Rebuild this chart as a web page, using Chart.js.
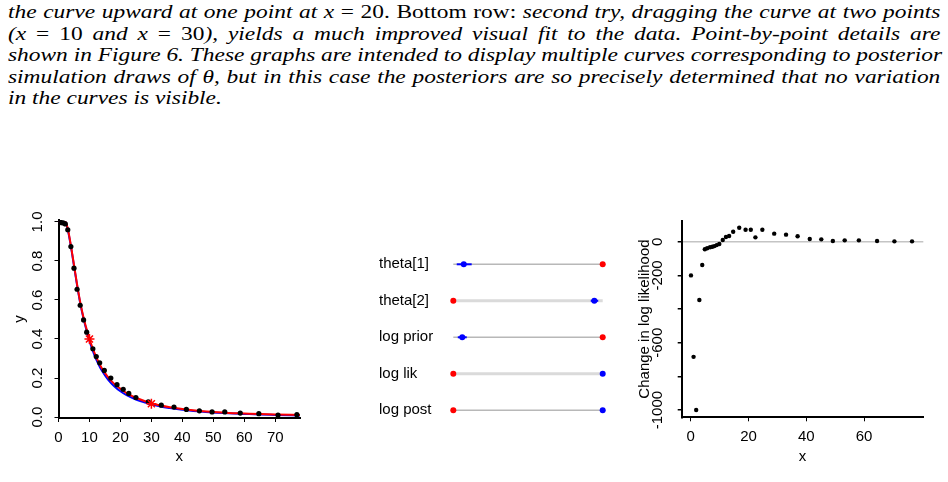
<!DOCTYPE html>
<html>
<head>
<meta charset="utf-8">
<script src="https://cdn.jsdelivr.net/npm/chart.js@4/dist/chart.umd.min.js"></script>
<style>
  body { margin: 0; width: 948px; height: 482px; overflow: hidden; background: #fff; position: relative; }
  /* Times italic is narrower than the TeX italic, so the block is stretched sideways */
  .caption { position: absolute; left: 8px; top: 2px; width: 737px; transform: scaleX(1.265); transform-origin: 0 0;
             font-family: "Liberation Serif", serif; font-style: italic; font-size: 18.5px; line-height: 21.5px; color: #000; }
  .caption div { text-align: justify; text-align-last: justify; white-space: nowrap; }
  .caption div.last { text-align-last: left; }
  .rm { font-style: normal; }
  canvas { position: absolute; }
</style>
</head>
<body>
<div class="caption">
  <div>the curve upward at one point at x <span class="rm">= 20. Bottom row:</span> second try, dragging the curve at two points</div>
  <div>(x <span class="rm">= 10</span> and x <span class="rm">= 30</span>), yields a much improved visual fit to the data. Point-by-point details are</div>
  <div>shown in Figure 6. These graphs are intended to display multiple curves corresponding to posterior</div>
  <div>simulation draws of θ, but in this case the posteriors are so precisely determined that no variation</div>
  <div class="last">in the curves is visible.</div>
</div>

<canvas id="fit" width="310" height="282" style="left:0;top:200px"></canvas>
<canvas id="dots" width="250" height="200" style="left:370px;top:240px"></canvas>
<canvas id="change" width="328" height="282" style="left:620px;top:200px"></canvas>

<script>
// left panel: data points, the two fitted curves and the two dragged points
const dataX = [0, 0.8, 1.5, 2.2, 3.0, 4.0, 5.0, 6.0, 7.0, 8.1, 9.1, 11.1, 12.2, 13.3, 14.8, 16.9, 18.9, 20.9, 22.7, 25.0, 29.0, 33.2, 37.3, 41.3, 45.5, 49.6, 53.7, 58.7, 64.7, 70.9, 77.0];
const dataY = [1.0, 0.997, 0.995, 0.99, 0.96, 0.874, 0.763, 0.655, 0.573, 0.498, 0.435, 0.35, 0.31, 0.278, 0.239, 0.2, 0.166, 0.142, 0.121, 0.10, 0.078, 0.061, 0.051, 0.039, 0.032, 0.026, 0.026, 0.020, 0.017, 0.010, 0.012];
const curveX = [0, 2.3, 3, 4, 5, 6, 7, 8, 9, 10, 11, 12, 13, 14, 16, 18, 20, 22, 25, 28, 30, 33, 36, 40, 45, 50, 55, 60, 65, 70, 78];
const redY = [1, 1, 0.965, 0.88, 0.78, 0.68, 0.59, 0.515, 0.455, 0.40, 0.355, 0.315, 0.28, 0.25, 0.205, 0.17, 0.145, 0.123, 0.099, 0.081, 0.071, 0.059, 0.05, 0.041, 0.032, 0.026, 0.021, 0.018, 0.015, 0.013, 0.011];
const blueY = [1, 1, 0.96, 0.875, 0.775, 0.675, 0.585, 0.51, 0.447, 0.39, 0.343, 0.302, 0.268, 0.238, 0.192, 0.158, 0.132, 0.112, 0.09, 0.074, 0.065, 0.054, 0.046, 0.037, 0.029, 0.023, 0.019, 0.016, 0.013, 0.011, 0.008];
const starX = [10, 30];
const starY = [0.4, 0.068];
const fitXTicks = [0, 10, 20, 30, 40, 50, 60, 70];
const fitYTicks = [0, 0.2, 0.4, 0.6, 0.8, 1.0];
const fitYLabels = ['0.0', '0.2', '0.4', '0.6', '0.8', '1.0'];

// middle panel: before (red) and after (blue) positions, scaled 0..1 per row
const rowLabels = ['theta[1]', 'theta[2]', 'log prior', 'log lik', 'log post'];
const redPos = [1, 0, 1, 0, 0];
const bluePos = [0.07, 0.944, 0.06, 1, 1];
const blueLo = [0.023, 0.92, 0.03, null, null];
const blueHi = [0.123, 0.97, 0.09, null, null];

// right panel: change in log likelihood for each point
const llX = [0.1, 1.0, 1.9, 3.0, 4.0, 4.9, 5.7, 6.7, 7.5, 8.2, 9.0, 9.9, 11.1, 12.2, 13.3, 14.7, 16.8, 19.0, 20.8, 22.4, 24.8, 28.9, 33.0, 37.0, 41.2, 45.2, 49.2, 53.3, 58.2, 64.5, 70.5, 76.6];
const llY = [-200, -684, -1000, -346, -138, -45, -39, -33, -30, -26, -20, -14, 10, 28, 34, 59, 83, 71, 71, 26, 71, 48, 42, 32, 16, 14, 4, 8, 8, 4, 2, 2];
const llXTicks = [0, 20, 40, 60];
const llYTicks = [-1000, -800, -600, -400, -200, 0];
const llYLabels = ['-1000', '', '-600', '', '-200', '0'];

const FONT = { family: 'Liberation Sans, Arial, sans-serif', size: 15 };

function pts(xs, ys) {
    return xs.map((x, i) => ({ x: x, y: ys[i] }));
}

// shared axis look (R style L-shaped axes with small outside ticks)
function axis(extra) {
    return Object.assign({
        type: 'linear',
        border: { color: '#000', width: 2 },
        grid: { drawOnChartArea: false, color: '#000', tickColor: '#000', tickLength: 4, lineWidth: 1 },
        ticks: { color: '#000', font: FONT, autoSkip: false, maxRotation: 0 }
    }, extra);
}

new Chart(document.getElementById('fit'), {
    type: 'scatter',
    data: {
        datasets: [
            { data: pts(starX, starY), pointStyle: 'star', pointRadius: 5, borderColor: '#ff0000', borderWidth: 1.5, order: 1 },
            { data: pts(dataX, dataY), backgroundColor: '#000', borderWidth: 0, pointRadius: 2.6, order: 2 },
            { type: 'line', data: pts(curveX, redY), borderColor: '#ff0000', borderWidth: 2, pointRadius: 0, cubicInterpolationMode: 'monotone', order: 3 },
            { type: 'line', data: pts(curveX, blueY), borderColor: '#0000ff', borderWidth: 2, pointRadius: 0, cubicInterpolationMode: 'monotone', order: 4 }
        ]
    },
    options: {
        responsive: false,
        animation: false,
        layout: { padding: { left: 0, top: 20, right: 10, bottom: 0 } },
        plugins: { legend: { display: false }, tooltip: { enabled: false } },
        scales: {
            x: axis({
                min: 0, max: 78,
                afterBuildTicks: s => { s.ticks = fitXTicks.map(v => ({ value: v })); },
                afterFit: s => { s.height = 64; },
                ticks: { color: '#000', font: FONT, autoSkip: false, maxRotation: 0, padding: 7 },
                title: { display: true, text: 'x', color: '#000', font: FONT, padding: { top: 0, bottom: 16 } }
            }),
            y: axis({
                min: -0.005, max: 1.01,
                afterBuildTicks: s => { s.ticks = fitYTicks.map(v => ({ value: v })); },
                afterFit: s => { s.width = 58.5; },
                ticks: { color: '#000', font: FONT, autoSkip: false, minRotation: 90, maxRotation: 90, crossAlign: 'center', padding: 6,
                         callback: (v, i) => fitYLabels[i] },
                title: { display: true, text: 'y', color: '#000', font: FONT, padding: { top: 11, bottom: 0 } }
            })
        }
    }
});

// middle panel datasets: row lines, blue intervals, then the dots
const dotSets = [];
rowLabels.forEach((lab, i) => {
    const odd = i % 2 === 0;
    dotSets.push({ type: 'line', data: [{ x: 0, y: i + 1 }, { x: 1, y: i + 1 }], borderColor: odd ? '#b8b8b8' : '#dadada',
                   borderWidth: odd ? 1.5 : 3, pointRadius: 0, clip: false, order: 5 });
    if (blueLo[i] !== null) {
        dotSets.push({ type: 'line', data: [{ x: blueLo[i], y: i + 1 }, { x: blueHi[i], y: i + 1 }], borderColor: '#0000ff',
                       borderWidth: 2, pointRadius: 0, clip: false, order: 4 });
    }
});
dotSets.push({ data: redPos.map((x, i) => ({ x: x, y: i + 1 })), backgroundColor: '#ff0000', borderWidth: 0, pointRadius: 3, clip: false, order: 2 });
dotSets.push({ data: bluePos.map((x, i) => ({ x: x, y: i + 1 })), backgroundColor: '#0000ff', borderWidth: 0, pointRadius: 3, clip: false, order: 1 });

new Chart(document.getElementById('dots'), {
    type: 'scatter',
    data: { datasets: dotSets },
    options: {
        responsive: false,
        animation: false,
        layout: { padding: { left: 9, top: 24.3, right: 17.3, bottom: 29.7 } },
        plugins: { legend: { display: false }, tooltip: { enabled: false } },
        scales: {
            x: { type: 'linear', display: false, min: 0, max: 1 },
            y: {
                type: 'linear', min: 1, max: 5, reverse: true,
                afterBuildTicks: s => { s.ticks = rowLabels.map((_, i) => ({ value: i + 1 })); },
                afterFit: s => { s.width = 74.3; },
                grid: { display: false },
                border: { display: false },
                ticks: { color: '#000', font: FONT, autoSkip: false, crossAlign: 'far', padding: 0,
                         callback: (v, i) => rowLabels[i] }
            }
        }
    }
});

new Chart(document.getElementById('change'), {
    type: 'scatter',
    data: {
        datasets: [
            { data: pts(llX, llY), backgroundColor: '#000', borderWidth: 0, pointRadius: 2.2 }
        ]
    },
    options: {
        responsive: false,
        animation: false,
        layout: { padding: { left: 0, top: 20.7, right: 24.7, bottom: 0 } },
        plugins: { legend: { display: false }, tooltip: { enabled: false } },
        scales: {
            x: axis({
                min: -3.11, max: 80.5,
                afterBuildTicks: s => { s.ticks = llXTicks.map(v => ({ value: v })); },
                afterFit: s => { s.height = 64.7; },
                ticks: { color: '#000', font: FONT, autoSkip: false, maxRotation: 0, padding: 7 },
                title: { display: true, text: 'x', color: '#000', font: FONT, padding: { top: 0, bottom: 16 } }
            }),
            y: axis({
                min: -1043, max: 124.8,
                afterBuildTicks: s => { s.ticks = llYTicks.map(v => ({ value: v })); },
                afterFit: s => { s.width = 61.7; },
                // zero reference line drawn as the only grid line across the plot
                grid: { drawOnChartArea: true, tickLength: 4, lineWidth: 1.5, tickColor: '#000',
                        color: c => (c.tick && c.tick.value === 0 ? '#c4c4c4' : 'rgba(0,0,0,0)') },
                ticks: { color: '#000', font: FONT, autoSkip: false, minRotation: 90, maxRotation: 90, crossAlign: 'center', padding: 1,
                         callback: (v, i) => llYLabels[i] },
                title: { display: true, text: 'Change in log likelihood', color: '#000', font: FONT, padding: { top: 16, bottom: 0 } }
            })
        }
    }
});
</script>
</body>
</html>
